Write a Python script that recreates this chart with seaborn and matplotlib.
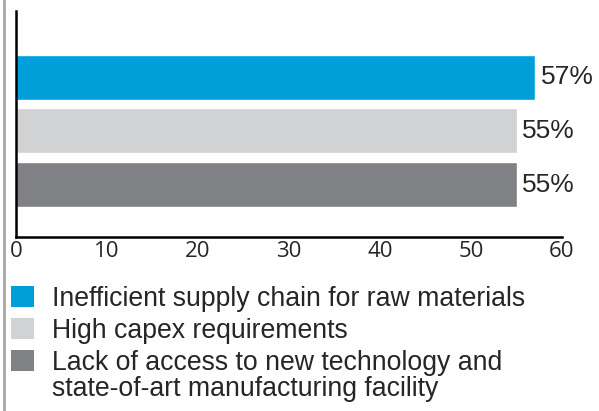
import pandas as pd
import matplotlib.pyplot as plt
import seaborn as sns
from matplotlib.patches import Patch
from matplotlib.lines import Line2D

# Datos
categorias = ["Inefficient supply chain for raw materials",
              "High capex requirements",
              "Lack of access to new technology and\nstate-of-art manufacturing facility"]
valores = [57, 55, 55]
colores = ["#009FDA", "#D1D2D4", "#808184"]
ticks_x = [0, 10, 20, 30, 40, 50, 60]

df = pd.DataFrame({"categoria": categorias, "valor": valores})

sns.set_style("white")
plt.rcParams["font.family"] = ["Liberation Sans", "DejaVu Sans"]

fig = plt.figure(figsize=(5.99, 4.11), dpi=100)
ax = fig.add_axes([16 / 599, (411 - 237) / 411, (562 - 16) / 599, (237 - 11) / 411])

sns.barplot(data=df, y="categoria", x="valor", hue="categoria", palette=colores,
            orient="h", width=0.84, legend=False, ax=ax, saturation=1)

for i, v in enumerate(valores):
    ax.text(v + 0.65, i, f"{v}%", va="center", ha="left", fontsize=19)

ax.set_xlim(0, 60)
ax.set_ylim(2.98, -1.24)
ax.set_xticks(ticks_x)
ax.set_xticklabels([str(t) for t in ticks_x], fontsize=16, family=["Open Sans", "DejaVu Sans"])
ax.set_yticks([])
ax.set_xlabel("")
ax.set_ylabel("")
ax.tick_params(axis="x", direction="in", length=5, width=1.3, color="black", pad=3)
for lado in ["top", "right"]:
    ax.spines[lado].set_visible(False)
for lado in ["left", "bottom"]:
    ax.spines[lado].set_color("black")
    ax.spines[lado].set_linewidth(1.8)

# Leyenda
handles = [Patch(facecolor=c, edgecolor="none") for c in colores]
leg = fig.legend(handles, categorias, loc="upper left", bbox_to_anchor=(11 / 599, 1 - 286 / 411),
                 frameon=False, fontsize=19.2, handlelength=0.85, handleheight=0.85,
                 handletextpad=0.7, labelspacing=0.22, borderaxespad=0, borderpad=0)
for t in leg.get_texts():
    t.set_linespacing(1.0)
# el cuadro de la entrada de dos líneas va alineado con la primera línea
leg.legend_handles[2].set_y(leg.legend_handles[2].get_y() + 11.5)

# Línea gris a la izquierda
fig.add_artist(Line2D([4 / 599, 4 / 599], [0, 1], color="#A8A8A8", lw=2))

fig.savefig("out.png", dpi=100)
